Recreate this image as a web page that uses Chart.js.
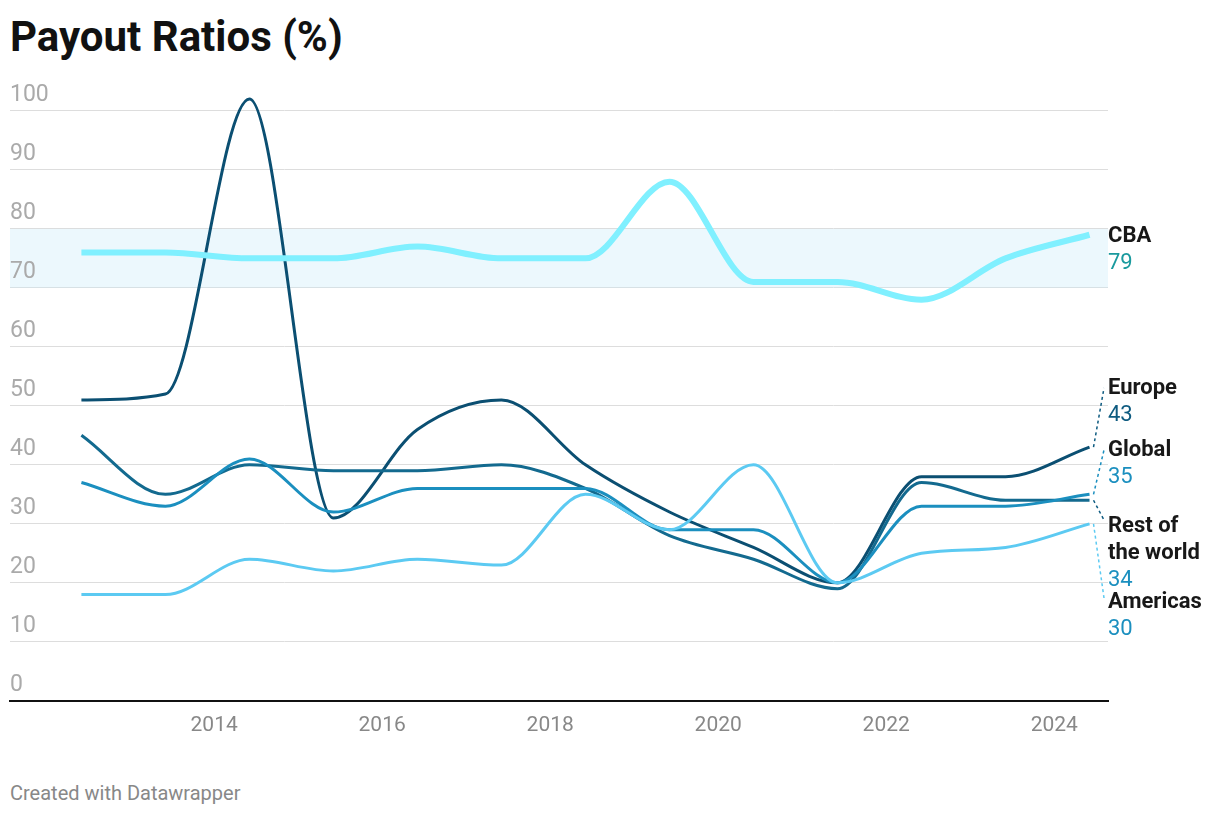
<!DOCTYPE html>
<html><head><meta charset="utf-8">
<script src="https://cdn.jsdelivr.net/npm/chart.js@4"></script>
<style>
body{margin:0;background:#fff;font-family:Roboto,sans-serif;width:1220px;height:818px;position:relative;overflow:hidden}
h1{position:absolute;left:10px;top:12px;margin:0;font-size:42px;font-weight:700;color:#111}
#foot{position:absolute;left:10px;top:781px;font-size:20px;color:#888}
#wrap{position:absolute;left:0;top:0;width:1220px;height:770px}
</style></head><body>
<h1>Payout Ratios (%)</h1>
<div id="wrap"><canvas id="c"></canvas></div>
<div id="foot">Created with Datawrapper</div>
<script>
// ── Data ─────────────────────────────────────────────
const years = [2012.42,2013.42,2014.42,2015.42,2016.42,2017.42,2018.42,2019.42,2020.42,2021.42,2022.42,2023.42,2024.42];
const cba      = [76,76,75,75,77,75,75,88,71,71,68,75,79];
const europe   = [51,52,102,31,46,51,40,32,26,20,38,38,43];
const global   = [37,33,41,32,36,36,36,29,29,20,33,33,35];
const restWorld= [45,35,40,39,39,40,36,28,24,19,37,34,34];
const americas = [18,18,24,22,24,23,35,29,40,20,25,26,30];
const yTicks = [0,10,20,30,40,50,60,70,80,90,100];
const xTicks = [2014,2016,2018,2020,2022,2024];

const pts = a => a.map((v,i) => ({x: years[i], y: v}));
function ds(label, data, color, w) {
  return { label, data: pts(data), borderColor: color, borderWidth: w, pointRadius: 0, cubicInterpolationMode: 'monotone', fill: false };
}

// end labels: name, value, colours, label y (px)
const endLabels = [
  { name: 'CBA', val: 79, color: '#1a9a9e', y: 236, line: null },
  { name: 'Europe', val: 43, color: '#0e5b80', y: 388, line: '#0e5b80' },
  { name: 'Global', val: 35, color: '#1b8fbf', y: 450, line: '#1b8fbf' },
  { name: 'Rest of', name2: 'the world', val: 34, color: '#1b8fbf', y: 526, line: '#0e5b80', lineY: 520 },
  { name: 'Americas', val: 30, color: '#1b8fbf', y: 602, line: '#5ccaf2', lineY: 598 },
];

const decor = {
  id: 'decor',
  beforeDatasetsDraw(chart) {
    const {ctx, chartArea: a, scales: {y}} = chart;
    ctx.save();
    ctx.fillStyle = 'rgba(200,235,248,0.35)';
    ctx.fillRect(a.left, y.getPixelForValue(80), a.right - a.left, y.getPixelForValue(70) - y.getPixelForValue(80));
    ctx.font = '23px Roboto'; ctx.fillStyle = '#aaa'; ctx.textBaseline = 'bottom';
    yTicks.forEach(t => ctx.fillText(String(t), a.left, y.getPixelForValue(t) - 4));
    ctx.restore();
  },
  afterDatasetsDraw(chart) {
    const {ctx, scales: {x, y}} = chart;
    const ex = x.getPixelForValue(years[years.length - 1]);
    ctx.save();
    ctx.textBaseline = 'middle';
    endLabels.forEach(l => {
      const lx = 1108;
      if (l.line) {
        ctx.strokeStyle = l.line; ctx.lineWidth = 1.5; ctx.setLineDash([3, 3]);
        ctx.beginPath(); ctx.moveTo(ex + 4, y.getPixelForValue(l.val)); ctx.lineTo(lx - 4, l.lineY || l.y); ctx.stroke();
        ctx.setLineDash([]);
      }
      ctx.font = 'bold 22px Roboto'; ctx.fillStyle = '#181818';
      ctx.fillText(l.name, lx, l.y);
      let vy = l.y + 27;
      if (l.name2) { ctx.fillText(l.name2, lx, l.y + 27); vy += 27; }
      ctx.font = '22px Roboto'; ctx.fillStyle = l.color;
      ctx.fillText(String(l.val), lx, vy);
    });
    ctx.restore();
  }
};

new Chart(document.getElementById('c'), {
  type: 'line',
  data: { datasets: [
    ds('CBA', cba, '#80f0ff', 6),
    ds('Americas', americas, '#5ccaf2', 3),
    ds('Global', global, '#1b8fbf', 3),
    ds('Rest of the world', restWorld, '#136a8f', 3),
    ds('Europe', europe, '#0b4f72', 3),
  ]},
  options: {
    responsive: true, maintainAspectRatio: false, animation: false,
    layout: { padding: { left: 10, right: 112, top: 92, bottom: 20 } },
    plugins: { legend: { display: false }, tooltip: { enabled: false } },
    scales: {
      x: { type: 'linear', min: 2011.57, max: 2024.64,
        afterBuildTicks: s => { s.ticks = xTicks.map(v => ({value: v})); },
        grid: { display: false, drawTicks: false },
        border: { color: '#111', width: 2 },
        ticks: { font: { size: 21, family: 'Roboto' }, color: '#888', padding: 12, callback: v => String(v) } },
      y: { min: 0, max: 103.2,
        afterBuildTicks: s => { s.ticks = yTicks.map(v => ({value: v})); },
        grid: { color: '#ddd', drawTicks: false }, border: { display: false },
        ticks: { display: false } }
    }
  },
  plugins: [decor]
});
</script>
</body></html>
